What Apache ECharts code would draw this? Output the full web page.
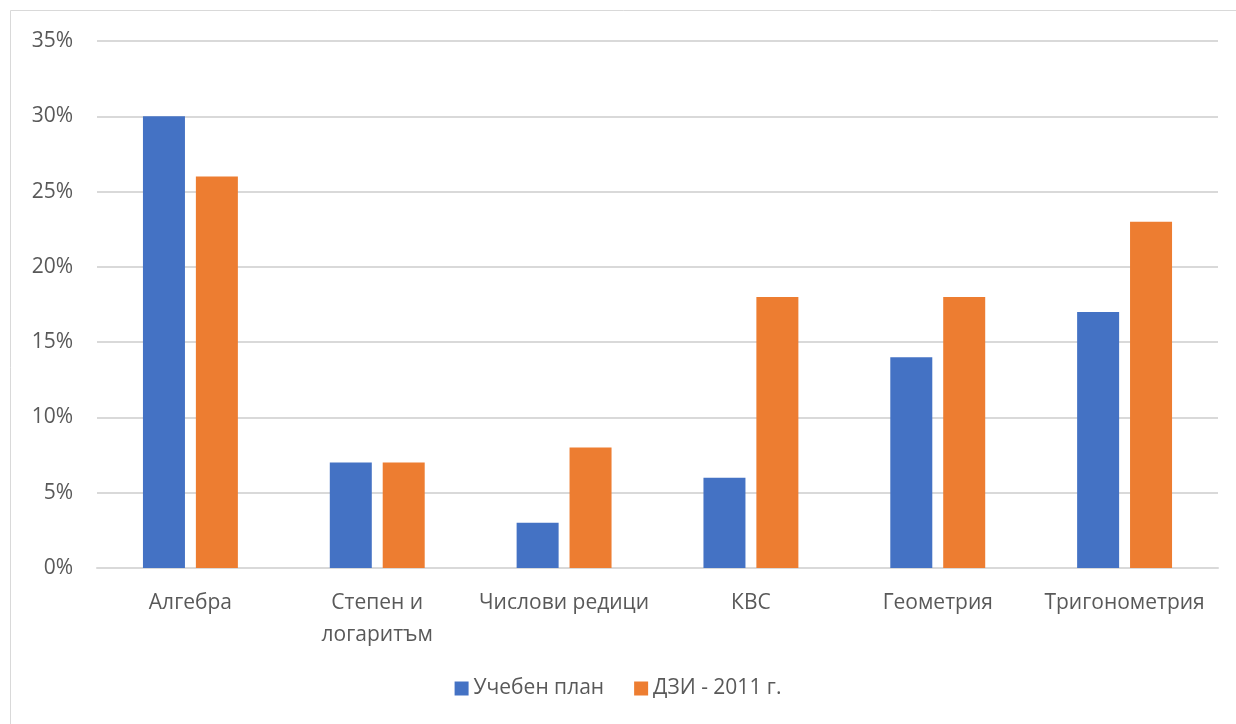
<!DOCTYPE html>
<html>
<head>
<meta charset="utf-8">
<script src="https://cdn.jsdelivr.net/npm/echarts@6/dist/echarts.min.js"></script>
<style>
  html, body { margin: 0; padding: 0; background: #fff; }
  #chart { width: 1236px; height: 724px; }
</style>
</head>
<body>
<div id="chart"></div>
<script>
// категории и стойности (в %)
const categories = ['Алгебра', 'Степен и\nлогаритъм', 'Числови редици', 'КВС', 'Геометрия', 'Тригонометрия']
const seriesNames = ['Учебен план', 'ДЗИ - 2011 г.']
const plan = [30, 7, 3, 6, 14, 17]
const dzi = [26, 7, 8, 18, 18, 23]
const yTicks = [0, 5, 10, 15, 20, 25, 30, 35]

const font = '"Open Sans", "Noto Sans", sans-serif'
const myChart = echarts.init(document.getElementById('chart'))

myChart.setOption({
  animation: false,
  backgroundColor: '#fff',
  graphic: [{
    type: 'rect',
    shape: { x: 10.5, y: 10.5, width: 1240, height: 740 },
    style: { fill: 'none', stroke: '#d9d9d9', lineWidth: 1 },
    silent: true,
  }],
  grid: { left: 97, right: 18, top: 41, bottom: 156 },
  legend: {
    bottom: 20,
    left: 'center',
    itemWidth: 14,
    itemHeight: 14,
    itemGap: 30,
    icon: 'rect',
    textStyle: { color: '#595959', fontSize: 21, fontFamily: font },
    data: seriesNames,
  },
  xAxis: {
    type: 'category',
    data: categories,
    axisLine: { lineStyle: { color: '#d9d9d9', width: 2 } },
    axisTick: { show: false },
    axisLabel: {
      color: '#595959', fontSize: 21, fontFamily: font,
      margin: 19, lineHeight: 32, interval: 0,
    },
  },
  yAxis: {
    type: 'value',
    min: yTicks[0],
    max: yTicks[yTicks.length - 1],
    interval: 5,
    axisLine: { show: false },
    axisTick: { show: false },
    splitLine: { lineStyle: { color: '#d9d9d9', width: 2 } },
    axisLabel: {
      color: '#595959', fontSize: 21, fontFamily: font, margin: 24,
      formatter: v => v + '%',
    },
  },
  series: [
    {
      name: seriesNames[0],
      type: 'bar',
      data: plan,
      barWidth: 42,
      barGap: '26%',
      itemStyle: { color: '#4472c4' },
    },
    {
      name: seriesNames[1],
      type: 'bar',
      data: dzi,
      barWidth: 42,
      itemStyle: { color: '#ed7d31' },
    },
  ],
})
</script>
</body>
</html>
